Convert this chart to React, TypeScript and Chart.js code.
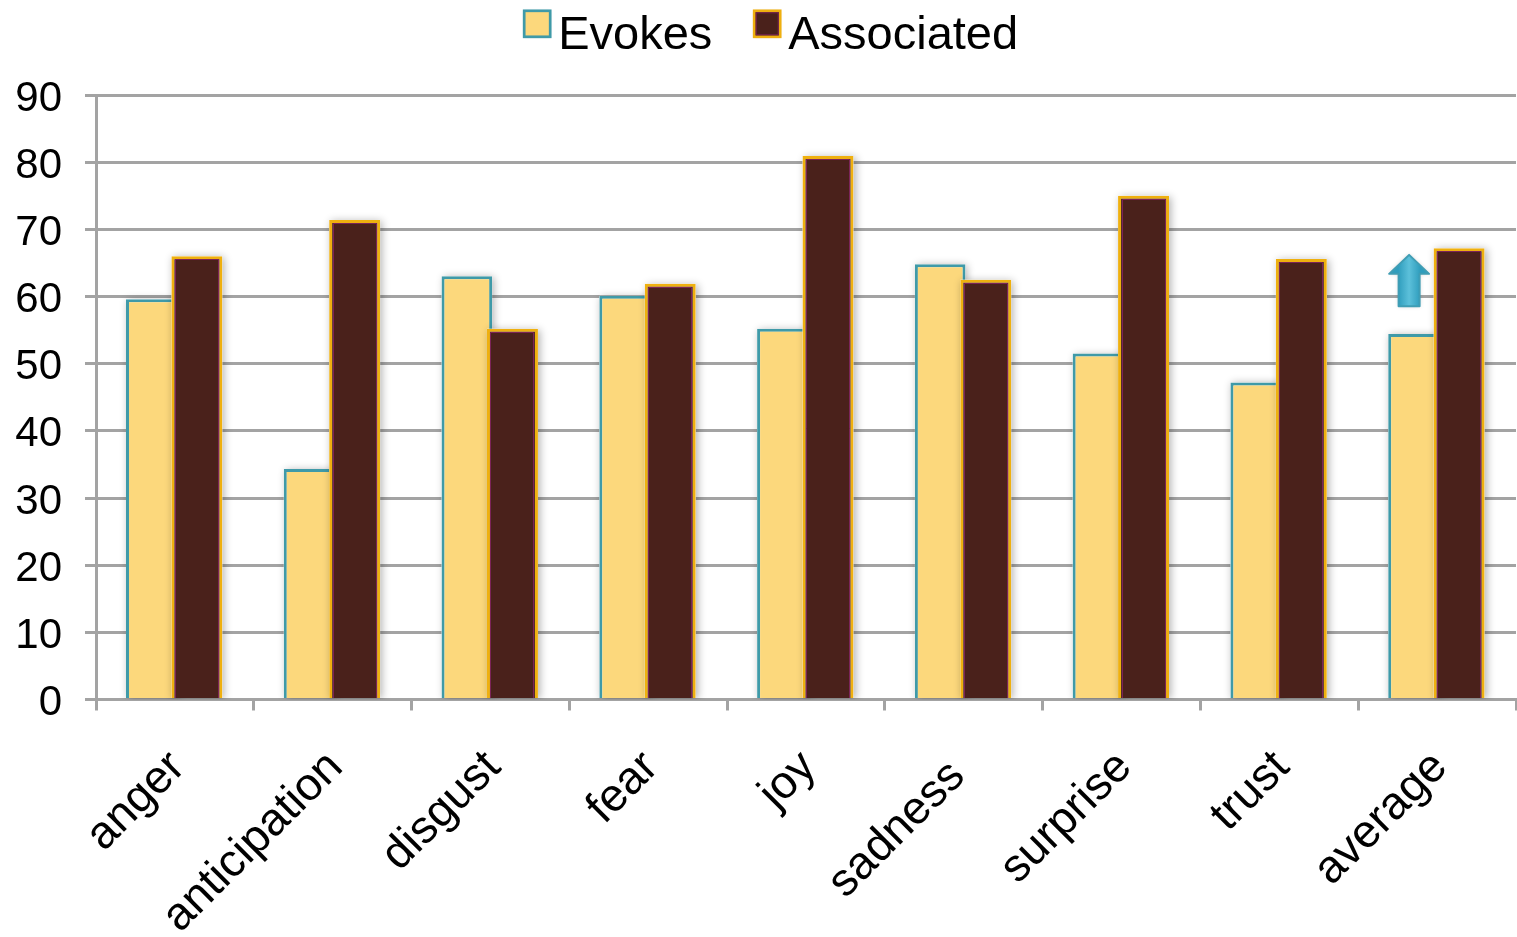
import React, { useEffect, useRef } from "react";
import { Chart, registerables } from "chart.js";

Chart.register(...registerables);

const categories = ["anger", "anticipation", "disgust", "fear", "joy", "sadness", "surprise", "trust", "average"];
const evokes = [59.6, 34.3, 63.0, 60.1, 55.2, 64.8, 51.5, 47.2, 54.4];
const associated = [66.0, 71.4, 55.2, 61.9, 80.9, 62.5, 75.0, 65.6, 67.2];
const seriesNames = ["Evokes", "Associated"];
const arrowCategory = "average";
const arrowTop = 66.2;
const arrowBottom = 58.55;

const FONT = '"Liberation Sans", Arial, sans-serif';
const GRID = "#a3a3a3";
const PLUM = "#7b2458";

// Chart.js paints the lowest `order` last, which also places it first in the group.
// The dark bars must sit on top yet stay on the right, so both series are placed here:
// pale bars left of the category centre, wider dark bars right of it, overlapping slightly.
const barPlacement = {
  id: "barPlacement",
  afterDatasetsUpdate(chart: any) {
    const xScale = chart.scales.x;
    chart.getDatasetMeta(0).data.forEach((bar: any, i: number) => {
      bar.x = xScale.getPixelForValue(i) - 23.6;
      bar.width = 50.6;
    });
    chart.getDatasetMeta(1).data.forEach((bar: any, i: number) => {
      bar.x = xScale.getPixelForValue(i) + 22;
      bar.width = 51;
    });
  },
};

// BarElement clips to its own outline, so the soft shadow is painted beneath it first.
// The plum inner line of the dark bars goes on afterwards.
const barStyling = {
  id: "barStyling",
  beforeDatasetDraw(chart: any, args: any) {
    const { ctx, chartArea } = chart;
    ctx.save();
    ctx.beginPath();
    ctx.rect(chartArea.left, 0, chartArea.width, chartArea.bottom);
    ctx.clip();
    ctx.shadowColor = "rgba(0,0,0,0.3)";
    ctx.shadowBlur = 8;
    ctx.shadowOffsetX = 2;
    ctx.shadowOffsetY = 1;
    ctx.fillStyle = "#fff";
    args.meta.data.forEach((bar: any) => {
      ctx.fillRect(bar.x - bar.width / 2, bar.y, bar.width, bar.base - bar.y);
    });
    ctx.restore();
  },
  afterDatasetDraw(chart: any, args: any) {
    if (args.index !== 1) return;
    const { ctx } = chart;
    ctx.save();
    ctx.strokeStyle = PLUM;
    ctx.lineWidth = 1;
    args.meta.data.forEach((bar: any) => {
      const half = bar.width / 2 - 3.5;
      const left = Math.round(bar.x - half) + 0.5;
      const right = Math.round(bar.x + half) - 0.5;
      const top = Math.round(bar.y) + 3.5;
      const bottom = Math.round(bar.base);
      ctx.beginPath();
      ctx.moveTo(left, bottom);
      ctx.lineTo(left, top);
      ctx.lineTo(right, top);
      ctx.lineTo(right, bottom);
      ctx.stroke();
    });
    ctx.restore();
  },
};

// Upward arrow beside the "average" bars, anchored through the chart's scales.
const upArrow = {
  id: "upArrow",
  afterDatasetsDraw(chart: any) {
    const { ctx, scales } = chart;
    const cx = scales.x.getPixelForValue(categories.indexOf(arrowCategory)) - 28;
    const top = scales.y.getPixelForValue(arrowTop);
    const bottom = scales.y.getPixelForValue(arrowBottom);
    const neck = top + (bottom - top) * 0.37;
    const grad = ctx.createLinearGradient(cx - 11, 0, cx + 11, 0);
    grad.addColorStop(0, "#2f9dbd");
    grad.addColorStop(0.5, "#5cc0da");
    grad.addColorStop(1, "#2f9dbd");
    ctx.save();
    ctx.shadowColor = "rgba(0,0,0,0.2)";
    ctx.shadowBlur = 4;
    ctx.beginPath();
    ctx.moveTo(cx, top);
    ctx.lineTo(cx + 20, neck);
    ctx.lineTo(cx + 10.5, neck);
    ctx.lineTo(cx + 10.5, bottom);
    ctx.lineTo(cx - 10.5, bottom);
    ctx.lineTo(cx - 10.5, neck);
    ctx.lineTo(cx - 20, neck);
    ctx.closePath();
    ctx.fillStyle = grad;
    ctx.fill();
    ctx.shadowColor = "transparent";
    ctx.lineWidth = 2;
    ctx.lineJoin = "round";
    ctx.strokeStyle = "#3f9db4";
    ctx.stroke();
    ctx.restore();
  },
};

// Legend with tight swatch-to-text spacing.
const compactLegend = {
  id: "compactLegend",
  afterDraw(chart: any) {
    const { ctx } = chart;
    const starts = [524.2, 754.2];
    ctx.save();
    ctx.font = `47px ${FONT}`;
    ctx.textBaseline = "alphabetic";
    ctx.textAlign = "left";
    chart.data.datasets.forEach((ds: any, i: number) => {
      const x = starts[i];
      ctx.save();
      ctx.shadowColor = "rgba(0,0,0,0.25)";
      ctx.shadowBlur = 3;
      ctx.fillStyle = ds.backgroundColor;
      ctx.fillRect(x, 10.8, 26, 26);
      ctx.restore();
      ctx.strokeStyle = ds.borderColor;
      ctx.lineWidth = 2.7;
      ctx.strokeRect(x, 10.8, 26, 26);
      if (i === 1) {
        ctx.strokeStyle = PLUM;
        ctx.lineWidth = 1;
        ctx.strokeRect(x + 2, 12.8, 22, 22);
      }
      ctx.fillStyle = "#000";
      ctx.fillText(ds.label, x + 34, 49);
    });
    ctx.restore();
  },
};

export default function App() {
  const ref = useRef<HTMLCanvasElement | null>(null);
  useEffect(() => {
    const chart = new Chart(ref.current as HTMLCanvasElement, {
      type: "bar",
      data: {
        labels: categories,
        datasets: [
          {
            label: seriesNames[0],
            data: evokes,
            backgroundColor: "#fcd87c",
            borderColor: "#3f9aa8",
            borderWidth: 3,
            order: 2,
          },
          {
            label: seriesNames[1],
            data: associated,
            backgroundColor: "#4a211b",
            borderColor: "#efb00f",
            borderWidth: 3,
            order: 1,
          },
        ],
      },
      options: {
        responsive: false,
        animation: false,
        devicePixelRatio: 1,
        layout: { autoPadding: false, padding: { top: 95, right: 1, bottom: 0, left: 0 } },
        plugins: { legend: { display: false }, tooltip: { enabled: false } },
        datasets: { bar: { categoryPercentage: 0.6, barPercentage: 1 } },
        scales: {
          x: {
            grid: { drawOnChartArea: false, color: GRID, lineWidth: 3, tickLength: 11, offset: true },
            border: { color: GRID, width: 3 },
            ticks: {
              autoSkip: false,
              minRotation: 45,
              maxRotation: 45,
              color: "#000",
              padding: 30,
              labelOffset: 3,
              font: { family: FONT, size: 46 },
              // "sadness" hangs a little lower along its slant than the other labels.
              callback(value: any) {
                const label = categories[value];
                return label === "sadness" ? label + " " : label;
              },
            },
            afterFit(scale: any) {
              scale.height = 237.5;
              scale.paddingLeft = 0;
              scale.paddingRight = 0;
            },
          },
          y: {
            min: 0,
            max: 90,
            ticks: { stepSize: 10, color: "#000", padding: 23, labelOffset: 4, font: { family: FONT, size: 42 } },
            grid: { color: GRID, lineWidth: 3, tickLength: 11 },
            border: { color: GRID, width: 3 },
            afterFit(scale: any) {
              scale.width = 96;
              scale.paddingTop = 0;
              scale.paddingBottom = 0;
            },
          },
        },
      } as any,
      plugins: [barPlacement, barStyling, upArrow, compactLegend],
    });
    return () => chart.destroy();
  }, []);
  return (
    <canvas
      ref={ref}
      width={1517}
      height={937}
      style={{ position: "fixed", left: 0, top: 0, display: "block", background: "#fff" }}
    />
  );
}
